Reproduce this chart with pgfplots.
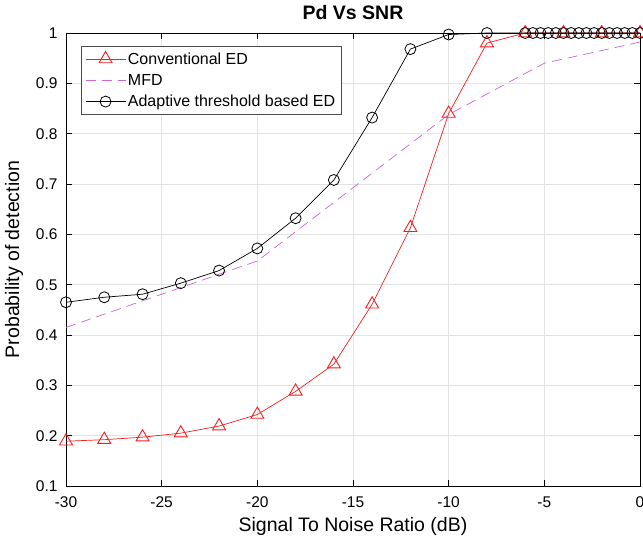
\documentclass[border=0pt]{standalone}
\usepackage{fontspec}
\setmainfont{Liberation Sans}
\usepackage{pgfplots}
\pgfplotsset{compat=1.18}
\definecolor{mfd}{rgb}{0.8,0.4,0.8}
\definecolor{edred}{rgb}{0.95,0.12,0.12}
\begin{document}
\begin{tikzpicture}
\begin{axis}[
  scale only axis, width=574pt, height=453pt,
  xmin=-30, xmax=0, ymin=0.1, ymax=1,
  xtick={-30,-25,-20,-15,-10,-5,0},
  ytick={0.1,0.2,0.3,0.4,0.5,0.6,0.7,0.8,0.9,1},
  yticklabels={0.1,0.2,0.3,0.4,0.5,0.6,0.7,0.8,0.9,1},
  /pgf/number format/assume math mode=true,
  tick label style={font=\fontsize{15.5}{18}\selectfont},
  xticklabel style={yshift=-7pt},
  yticklabel style={xshift=-5pt},
  tick align=inside, major tick length=6pt,
  tick style={black, line width=0.6pt},
  grid=major, major grid style={gray!22, line width=0.6pt},
  axis line style={black, line width=0.7pt},
  xlabel={Signal To Noise Ratio (dB)},
  ylabel={Probability of detection},
  label style={font=\fontsize{19.5}{23}\selectfont},
  xlabel style={yshift=-3pt},
  ylabel style={yshift=6pt},
  title={\fontsize{19.5}{23}\selectfont\bfseries Pd Vs SNR},
  title style={yshift=4pt},
  clip=false,
  legend style={at={(0.026,0.971)}, anchor=north west, draw=black!70, line width=0.6pt,
    font=\fontsize{16}{19}\selectfont, row sep=4.5pt, inner sep=4pt},
  legend cell align=left,
  legend image code/.code={\draw[mark repeat=2,mark phase=2] plot coordinates {(0pt,0pt)(20pt,0pt)(40pt,0pt)};},
]
\coordinate (sw) at (rel axis cs:0,0);
\coordinate (ne) at (rel axis cs:1,1);
\addplot[edred, line width=0.7pt, mark=triangle, mark size=7.5pt, mark options={solid, line width=0.9pt}] coordinates {
(-30,0.189) (-28,0.192) (-26,0.197) (-24,0.205) (-22,0.219) (-20,0.242) (-18,0.288) (-16,0.342) (-14,0.461) (-12,0.613) (-10,0.840) (-8,0.980) (-6,1.0) (-4,1.0) (-2,1.0) (0,1.0)};
\addlegendentry{Conventional ED}
\addplot[mfd, line width=0.7pt, dash pattern=on 10pt off 6pt] coordinates {
(-30,0.415) (-20,0.547) (-10,0.838) (-5,0.940) (0,0.982)};
\addlegendentry{MFD}
\addplot[black, line width=0.7pt, mark=o, mark size=5.5pt, mark options={solid, line width=0.8pt}] coordinates {
(-30,0.465) (-28,0.475) (-26,0.481) (-24,0.503) (-22,0.528) (-20,0.572) (-18,0.632) (-16,0.708) (-14,0.832) (-12,0.968) (-10,0.997) (-8,1.0)
(-6,1.0) (-5.6,1.0) (-5.2,1.0) (-4.8,1.0) (-4.4,1.0) (-4,1.0) (-3.6,1.0) (-3.2,1.0) (-2.8,1.0) (-2.4,1.0) (-2,1.0) (-1.6,1.0) (-1.2,1.0) (-0.8,1.0) (-0.4,1.0) (0,1.0)};
\addlegendentry{Adaptive threshold based ED}
\end{axis}
\pgfresetboundingbox
\path ([shift={(-66pt,-57pt)}]sw) rectangle ([shift={(3pt,33pt)}]ne);
\end{tikzpicture}
\end{document}
